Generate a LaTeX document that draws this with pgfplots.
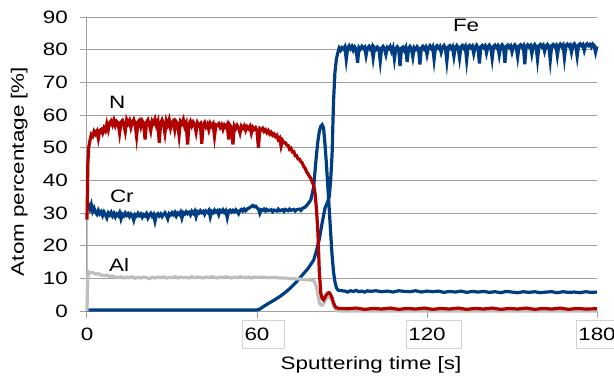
\documentclass[border=0pt]{standalone}
\usepackage{fontspec}
\setmainfont{Liberation Sans}[FakeStretch=1.25]
\usepackage{pgfplots}
\pgfplotsset{compat=1.18}
\definecolor{cN}{HTML}{B00000}
\definecolor{cB}{HTML}{003D82}
\definecolor{cAl}{HTML}{BEBEBE}
\definecolor{cGrid}{HTML}{A0A0A0}
\begin{document}
\begin{tikzpicture}
\path[use as bounding box] (-87bp,-67bp) rectangle (527bp,311bp);
\begin{axis}[
  scale only axis, width=510bp, height=294bp,
  xmin=0, xmax=180, ymin=0, ymax=90,
  ytick={0,10,...,90}, xtick={60,120,180},
  extra x ticks={0},
  extra x tick style={xticklabel style={draw=none}},
  axis x line*=bottom, axis y line*=left,
  axis line style={cGrid, line width=1bp},
  ymajorgrids, grid style={cGrid, line width=1bp},
  tick align=outside, major tick length=7bp,
  tick style={cGrid, line width=1bp},
  clip=false,
  /pgf/number format/assume math mode=true,
  yticklabel style={font=\fontsize{18}{18}\selectfont, inner sep=0pt, xshift=-12bp},
  xticklabel={\pgfmathprintnumber{\tick}\kern13bp},
  xticklabel style={font=\fontsize{18}{18}\selectfont, draw=gray!35, fill=white,
     text height=12.5bp, text depth=0pt, inner xsep=2bp, inner ysep=7.5bp,
     xshift=6.5bp, yshift=-2bp},
  xlabel={Sputtering time [s]},
  ylabel={Atom percentage [\%]},
  xlabel style={font=\fontsize{18}{18}\selectfont, at={(axis description cs:0.557,-0.184)}, anchor=center},
  ylabel style={font=\fontsize{18}{18}\selectfont, at={(axis description cs:-0.133,0.4745)}, anchor=center, rotate=0},
]
% Fe
\addplot[cB, line width=3.2bp] coordinates {
(0,0.3) (60,0.3) (61,0.6) (62,1.2) (64,2.3) (66,3.3) (68,4.4) (70,5.7) (72,7.2) (74,9) (76,11) (78,13) (80,15.6) (81,18.5) (82,22) (83,27) (84,31.5) (85,33.5) (85.5,35) (86,40) (86.5,48) (87,64) (87.5,73) (88,77) (88.5,79) (89,80.5) (89.5,79.8) (90,80.6)
(90.5,80.2) (91,80.9) (91.5,77) (92,80.5) (92.5,81.2) (93,80.3) (93.5,81) (94,79.8) (94.5,80.8) (95,80.1) (95.5,76) (96,80.7) (96.5,80.2) (97,81) (97.5,80.4) (98,80.8) (98.5,78.2) (99,80.5) (99.5,81) (100,80.2) (100.5,80.9) (101,77.5) (101.5,80.6) (102,80.1) (102.5,80.8) (103,80.3) (103.5,76.5) (104,80.5) (104.5,81) (105,80.2) (105.5,78.5) (106,80.7) (106.5,80.3) (107,81) (107.5,79.5) (108,80.6) (108.5,77.2) (109,80.4) (109.5,80.9) (110,80.2) (110.5,75) (111,80.5) (111.5,80.8) (112,79.8) (112.5,80.7) (113,76.2) (113.5,80.4) (114,81) (114.5,80.3) (115,77.8) (115.5,80.6) (116,80.1) (116.5,80.9) (117,80.3) (117.5,75.5) (118,80.5) (118.5,81) (119,80.2) (119.5,80.8) (120,78.5) (120.5,80.6) (121,81.2) (121.5,80.4) (122,81) (122.5,77) (123,80.7) (123.5,81.2) (124,80.5) (124.5,81) (125,79.2) (125.5,80.8) (126,81.3) (126.5,80.5) (127,76.5) (127.5,80.8) (128,81.2) (128.5,80.4) (129,81) (129.5,78) (130,80.7) (130.5,81.3) (131,80.6) (131.5,77.5) (132,80.9) (132.5,81.3) (133,80.5) (133.5,81.1) (134,76.8) (134.5,80.9) (135,81.3) (135.5,80.6) (136,81.1) (136.5,78.8) (137,80.8) (137.5,81.4) (138,80.6) (138.5,75.8) (139,80.9) (139.5,81.3) (140,80.7) (140.5,81.2) (141,79) (141.5,80.9) (142,81.4) (142.5,80.6) (143,77.3) (143.5,81) (144,81.4) (144.5,80.7) (145,81.2) (145.5,78.4) (146,80.9) (146.5,81.5) (147,80.8) (147.5,76) (148,81) (148.5,81.4) (149,80.7) (149.5,81.2) (150,79.3) (150.5,81) (151,81.5) (151.5,80.8) (152,77.8) (152.5,81.1) (153,81.5) (153.5,80.8) (154,81.3) (154.5,75.5) (155,81) (155.5,81.5) (156,80.9) (156.5,81.3) (157,78.7) (157.5,81.1) (158,81.6) (158.5,80.9) (159,77) (159.5,81.2) (160,81.6) (160.5,80.9) (161,81.4) (161.5,79.5) (162,81.1) (162.5,81.6) (163,81) (163.5,76.8) (164,81.2) (164.5,81.6) (165,81) (165.5,81.4) (166,78.2) (166.5,81.2) (167,81.7) (167.5,81) (168,81.5) (168.5,77.5) (169,81.3) (169.5,81.7) (170,81.1) (170.5,81.5) (171,79.2) (171.5,81.3) (172,81.8) (172.5,81.1) (173,78) (173.5,81.4) (174,81.8) (174.5,81.2) (175,81.6) (175.5,79.8) (176,81.4) (176.5,81.8) (177,81.2) (177.5,81.6) (178,80.8) (178.5,81.7) (179,81.3) (179.5,79.2) (180,81)
};
% Cr (thin rise at t=0)
\addplot[cB!45, line width=1bp] coordinates {(0,0) (0.05,31)};
% Cr
\addplot[cB, line width=3.2bp] coordinates {
(0.1,31) (0.5,32.5) (1,31.2) (1.5,32.6) (2,30.5) (2.5,31.5) (3,30.2) (3.5,29.6) (4,30.8) (4.5,29.8) (5,30.4) (5.5,29.2) (6,30.3) (6.5,29.5) (7,28.5) (7.5,30) (8,29.4) (8.5,30.2) (9,29.1) (9.5,29.9) (10,28.8) (10.5,29.7) (11,29.2) (11.5,30.1) (12,28.2) (12.5,29.6) (13,29.1) (13.5,30) (14,29.3) (14.5,29.8) (15,28.9) (15.5,29.7) (16,29.2) (16.5,27.8) (17,29.5) (17.5,29.1) (18,29.9) (18.5,29.2) (19,29.7) (19.5,28.7) (20,29.5) (20.5,29.1) (21,29.8) (21.5,28.5) (22,29.4) (22.5,29.9) (23,29) (23.5,29.6) (24,27.5) (24.5,29.4) (25,29.8) (25.5,29.1) (26,29.7) (26.5,28.9) (27,29.6) (27.5,30.1) (28,29.3) (28.5,28.2) (29,29.8) (29.5,29.4) (30,30.1) (30.5,29.5) (31,30.2) (31.5,29.1) (32,30) (32.5,29.6) (33,30.3) (33.5,28.5) (34,30.1) (34.5,29.7) (35,30.4) (35.5,29.8) (36,30.2) (36.5,29.4) (37,30.5) (37.5,29.9) (38,30.6) (38.5,28.9) (39,30.4) (39.5,30) (40,30.7) (40.5,30.1) (41,30.5) (41.5,29.6) (42,30.6) (42.5,30.2) (43,30.8) (43.5,28.8) (44,30.5) (44.5,30.1) (45,30.9) (45.5,30.3) (46,30.7) (46.5,29.5) (47,30.8) (47.5,30.4) (48,31) (48.5,30.2) (49,30.7) (49.5,28.6) (50,30.6) (50.5,30.9) (51,30.3) (51.5,30.8) (52,30.4) (52.5,31) (53,30.5) (53.5,29.8) (54,30.8) (54.5,31.1) (55,30.6) (55.5,31.2) (56,30.7) (56.5,31.2) (57,31.4) (57.5,31.7) (58,32) (58.5,32.3) (59,31.9) (59.5,32.1) (60,31.6) (60.5,31.2) (61,29.9) (61.5,31) (62,30.8) (62.5,31.2) (63,30.6) (63.5,31.1) (64,30.7) (65,31) (65.5,30.4) (66,30.9) (67,30.6) (67.5,31.2) (68,30.7) (69,31) (69.5,30.5) (70,31.1) (71,30.7) (71.5,31.2) (72,30.8) (73,31.1) (73.5,30.6) (74,31) (75,31.2) (75.5,30.8) (76,31.4) (77,31.8) (78,32.8) (79,34) (80,38) (80.5,43) (81,48) (81.5,52) (82,55) (82.5,56.5) (83,57) (83.5,56) (84,51) (84.5,45) (85,38) (85.5,31) (86,24) (86.5,17) (87,12) (87.5,9) (88,7.2) (88.5,6.5) (89,6.3) (90,6.2)
(91,6.1) (92,5.8) (93,6.2) (94,6) (95,6.3) (96,5.9) (97,6.1) (98,5.8) (99,6.2) (100,6) (102,6.2) (104,5.9) (106,6.1) (108,5.8) (110,6.2) (112,6) (114,5.9) (116,6.2) (118,5.8) (120,6.1) (122,5.9) (124,6.1) (126,5.7) (128,6) (130,5.8) (132,6.1) (134,5.7) (136,6) (138,5.8) (140,6) (142,5.7) (144,5.9) (146,5.6) (148,6) (150,5.8) (152,5.6) (154,5.9) (156,5.7) (158,5.9) (160,5.6) (162,5.8) (164,5.9) (166,5.6) (168,5.9) (170,5.7) (172,5.8) (174,5.6) (176,5.9) (178,5.7) (180,5.8)
};
% Al
\addplot[cAl, line width=3.2bp] coordinates {
(0,0) (0.2,10) (0.5,12) (1,11.6) (2,11.8) (3,11.3) (4,11.4) (5,11) (6,10.8) (7,11) (8,10.6) (9,10.7) (10,10.4) (11,10.2) (12,10.5) (13,10.1) (14,10.4) (15,10.2) (16,10.5) (17,10) (18,10.3) (19,10.1) (20,10.4) (21,10.2) (22,9.9) (23,10.3) (24,10.1) (25,10.4) (26,10.2) (27,10.5) (28,10.1) (29,10.3) (30,10.2) (31,10.5) (32,10.1) (33,10.4) (34,10.2) (35,10.3) (36,10.1) (37,10.5) (38,10.2) (39,10.4) (40,10.3) (41,10.1) (42,10.4) (43,10.2) (44,10.5) (45,10.3) (46,10.1) (47,10.4) (48,10.2) (49,10.5) (50,10.3) (51,10.1) (52,10.4) (53,10.2) (54,10.5) (55,10.3) (56,10.2) (57,10.4) (58,10.1) (59,10.4) (60,10.3) (62,10.4) (64,10.2) (66,10.3) (68,10.1) (70,10.1) (72,9.9) (75,9.8) (77,9.6) (79,9.5) (80,9.3) (80.5,8.5) (81,7.4) (81.5,5) (82,2.5) (82.5,1.9) (83,1.8) (83.5,2.3) (84,3.2) (85,4.4) (85.5,4.3) (86,3.8) (86.5,3.2) (87,1.8) (87.5,0.8) (88,0.2) (89,0) (180,0)
};
% N
\addplot[cN, line width=3.2bp] coordinates {
(0,28) (0.3,45) (0.6,50) (1,52) (1.5,54) (2,53.5) (2.5,55) (3,54.2) (3.5,55) (4,52.8) (4.5,55.3) (5,55.6) (5.5,54.5) (6,56) (6.5,55.2) (7,57.3) (7.5,55.5) (8,57.6) (8.5,58.2) (9,57) (9.5,58.4) (10,56.8) (10.5,58) (11,57.5) (11.5,54.5) (12,57.8) (12.5,58.3) (13,57) (13.5,55) (14,58.5) (14.5,57.4) (15,58.3) (15.5,56.2) (16,57.8) (16.5,58.6) (17,57.2) (17.5,53.5) (18,57.9) (18.5,58.4) (19,56.5) (19.5,58.2) (20,57.4) (20.5,52.5) (21,57.8) (21.5,58.5) (22,57.1) (22.5,55.2) (23,58.2) (23.5,57.5) (24,58.7) (24.5,56.8) (25,58) (25.5,51.5) (26,57.6) (26.5,58.5) (27,57.3) (27.5,54.5) (28,58.2) (28.5,57) (29,58.5) (29.5,56) (30,57.7) (30.5,58.2) (31,55.5) (31.5,57.9) (32,57.3) (32.5,53.8) (33,58) (33.5,57.4) (34,58.6) (34.5,56.5) (35,57.5) (35.5,51) (36,57.2) (36.5,58.1) (37,56.7) (37.5,57.8) (38,57) (38.5,54.8) (39,57.6) (39.5,56.8) (40,57.3) (40.5,51.2) (41,57) (41.5,57.7) (42,56.4) (42.5,57.2) (43,55.5) (43.5,57.4) (44,56.6) (44.5,57.3) (45,53.5) (45.5,57) (46,56.8) (46.5,57.3) (47,56.2) (47.5,57) (48,55.6) (48.5,56.9) (49,56.3) (49.5,57.1) (50,52.5) (50.5,56.8) (51,56.2) (51.5,51) (52,56.7) (52.5,55.9) (53,56.8) (53.5,56) (54,54.5) (54.5,56.6) (55,56) (55.5,56.7) (56,55.3) (56.5,56.4) (57,55.8) (57.5,56.5) (58,54.5) (58.5,56.2) (59,55.6) (59.5,56.1) (60,55.2) (60.5,50) (61,55.8) (61.5,55.4) (62,55.9) (62.5,55) (63,55.5) (63.5,54.6) (64,55.2) (64.5,54.2) (65,54.7) (65.5,53.8) (66,54.2) (66.5,53.4) (67,53.8) (67.5,52.5) (68,53) (68.5,50.5) (69,52.2) (69.5,51.5) (70,51.5) (70.5,50.8) (71,50.7) (71.5,49.5) (72,49.8) (72.5,48.7) (73,48.8) (73.5,47.5) (74,47.5) (74.5,46.5) (75,46.5) (75.5,45.7) (76,45.3) (76.5,44.2) (77,43.7) (77.5,42.6) (78,42) (78.5,41.2) (79,40.6) (79.5,39.5) (80,38.5) (80.5,36) (81,31) (81.5,24) (82,12) (82.5,5.5) (83,3.8) (83.5,3.4) (84,4.2) (84.5,5) (85,5.5) (85.5,5.6) (86,5) (86.5,4) (87,2.5) (87.5,1.5) (88,1) (89,0.8)
(92,0.7) (95,0.9) (98,0.5) (101,0.8) (104,0.6) (107,0.9) (110,0.5) (113,0.8) (116,0.6) (119,0.9) (122,0.5) (125,0.8) (128,0.6) (131,0.9) (134,0.5) (137,0.8) (140,0.6) (143,0.9) (146,0.5) (149,0.8) (152,0.6) (155,0.9) (158,0.5) (161,0.8) (164,0.6) (167,0.9) (170,0.5) (173,0.8) (176,0.6) (180,0.7)
};
\node[font=\fontsize{18}{18}\selectfont] at (axis cs:10.7,63.8) {N};
\node[font=\fontsize{18}{18}\selectfont] at (axis cs:12.3,35.1) {Cr};
\node[font=\fontsize{18}{18}\selectfont] at (axis cs:11.3,14.1) {Al};
\node[font=\fontsize{18}{18}\selectfont] at (axis cs:133.8,87.5) {Fe};
\end{axis}
\end{tikzpicture}
\end{document}
